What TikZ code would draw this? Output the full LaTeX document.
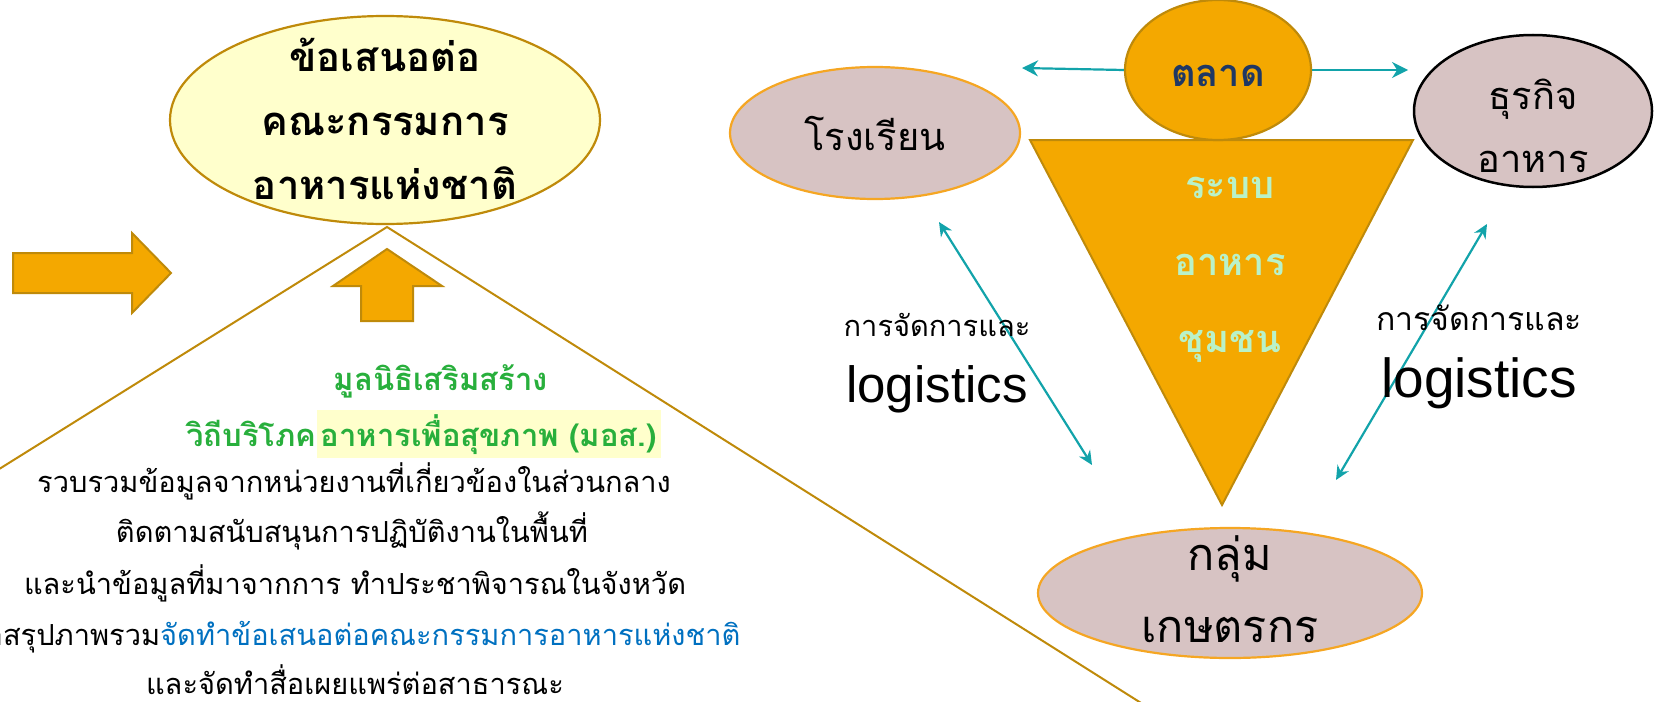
\documentclass[tikz,border=0pt]{standalone}
\usepackage{fontspec}
\setmainfont{Liberation Sans}
\newfontfamily\thai[Script=Thai]{Loma}
\usetikzlibrary{shapes.geometric,arrows.meta}
\definecolor{gold}{RGB}{191,138,10}
\definecolor{orangefill}{RGB}{244,168,0}
\definecolor{paleyellow}{RGB}{255,255,204}
\definecolor{mauve}{RGB}{215,195,195}
\definecolor{amber}{RGB}{245,166,35}
\definecolor{tealc}{RGB}{18,163,170}
\definecolor{greentxt}{RGB}{40,175,60}
\definecolor{bluetxt}{RGB}{0,112,192}
\definecolor{navy}{RGB}{31,56,100}
\definecolor{mint}{RGB}{185,242,200}
\tikzset{
  oval/.style={ellipse, inner sep=0pt, line width=2.2pt},
  blockarrow/.style={fill=orangefill, draw=gold, line width=2pt, line join=miter},
  link/.style={tealc, line width=2.2pt},
  tip/.style={-{Stealth[length=16pt,width=16pt]}},
  bothtips/.style={{Stealth[length=14pt,width=13pt]}-{Stealth[length=14pt,width=13pt]}},
  txt/.style={anchor=base, inner sep=0pt},
  titletxt/.style={txt, font=\thai\bfseries\fontsize{40}{44}\selectfont},
  bodytxt/.style={txt, font=\thai\fontsize{29}{32}\selectfont},
  greenline/.style={txt, text=greentxt, font=\thai\bfseries\fontsize{31}{34}\selectfont},
  bigtxt/.style={txt, font=\thai\fontsize{38}{40}\selectfont},
  farmtxt/.style={txt, font=\thai\fontsize{45}{48}\selectfont},
  tritxt/.style={txt, text=mint, font=\thai\bfseries\fontsize{38}{40}\selectfont},
}
\begin{document}
\begin{tikzpicture}[x=1pt,y=-1pt]
\useasboundingbox (0,0) rectangle (1656,701);
\clip (0,0) rectangle (1656,701);

% ---------- left part ----------
\coordinate (apex) at (387,227);
\coordinate (lfoot) at (-20,481);
\coordinate (rfoot) at (1168,720);
\draw[gold, line width=2pt] (lfoot) -- (apex) -- (rfoot);

\node[oval, draw=gold, fill=paleyellow, minimum width=430pt, minimum height=208pt] (prop) at (385,120) {};
\node[titletxt] (t1) at (385,71) {ข้อเสนอต่อ};
\node[titletxt] (t2) at (385,135) {คณะกรรมการ};
\node[titletxt] (t3) at (385,199) {อาหารแห่งชาติ};

\draw[blockarrow] (13,253) -- (132,253) -- (132,233) -- (171,273) -- (132,313) -- (132,293) -- (13,293) -- cycle;
\draw[blockarrow] (387,249) -- (442,286) -- (413,286) -- (413,321) -- (361,321) -- (361,286) -- (333,286) -- cycle;

\node[greenline] (g1) at (441,390) {มูลนิธิเสริมสร้าง};
\node[greenline, anchor=base east] (g2) at (661,446) {วิถีบริโภค{\fboxsep=4pt\colorbox{paleyellow}{อาหารเพื่อสุขภาพ (มอส.)}}};
\node[bodytxt] (b1) at (354,492) {รวบรวมข้อมูลจากหน่วยงานที่เกี่ยวข้องในส่วนกลาง};
\node[bodytxt] (b2) at (352,542) {ติดตามสนับสนุนการปฏิบัติงานในพื้นที่};
\node[bodytxt] (b3) at (355,594) {และนำข้อมูลที่มาจากการ ทำประชาพิจารณในจังหวัด};
\node[bodytxt] (b4) at (354,645) {มาสรุปภาพรวม\textcolor{bluetxt}{จัดทำข้อเสนอต่อคณะกรรมการอาหารแห่งชาติ}};
\node[bodytxt] (b5) at (355,694) {และจัดทำสื่อเผยแพร่ต่อสาธารณะ};

% ---------- right part ----------
\fill[orangefill, draw=gold, line width=2pt] (1030,140) -- (1413,140) -- (1222,505) -- cycle;
\node[tritxt] (r1) at (1230,198) {ระบบ};
\node[tritxt] (r2) at (1230,275) {อาหาร};
\node[tritxt] (r3) at (1230,352) {ชุมชน};

\node[oval, draw=gold, fill=orangefill, minimum width=186pt, minimum height=140pt] (talad) at (1218,70) {};
\node[txt, text=navy, font=\thai\bfseries\fontsize{38}{40}\selectfont] (taladt) at (1218,86) {ตลาด};

\node[oval, draw=amber, fill=mauve, minimum width=290pt, minimum height=132pt] (school) at (875,133) {};
\node[bigtxt] (schoolt) at (875,150) {โรงเรียน};

\node[oval, draw=black, fill=mauve, line width=2.5pt, minimum width=238pt, minimum height=152pt] (biz) at (1533,111) {};
\node[bigtxt] (biz1) at (1533,109) {ธุรกิจ};
\node[bigtxt] (biz2) at (1533,172) {อาหาร};

\node[oval, draw=amber, fill=mauve, minimum width=384pt, minimum height=130pt] (farm) at (1230,593) {};
\node[farmtxt] (farm1) at (1230,570) {กลุ่ม};
\node[farmtxt] (farm2) at (1230,642) {เกษตรกร};

\coordinate (tl) at (1022,68);
\coordinate (tr) at (1408,70);
\draw[link, tip] (talad.west) -- (tl);
\draw[link, tip] (talad.east) -- (tr);

\coordinate (la) at (939,222);
\coordinate (lb) at (1092,465);
\coordinate (ra) at (1487,224);
\coordinate (rb) at (1336,480);
\draw[link, bothtips] (la) -- (lb);
\draw[link, bothtips] (ra) -- (rb);

\node[txt, font=\thai\fontsize{29}{30}\selectfont] (ll1) at (937,336) {การจัดการและ};
\node[txt, font=\fontsize{51}{54}\selectfont] (ll2) at (937,402) {logistics};
\node[txt, font=\thai\fontsize{32}{34}\selectfont] (rl1) at (1479,330) {การจัดการและ};
\node[txt, font=\fontsize{55}{58}\selectfont] (rl2) at (1479,397) {logistics};
\end{tikzpicture}
\end{document}
